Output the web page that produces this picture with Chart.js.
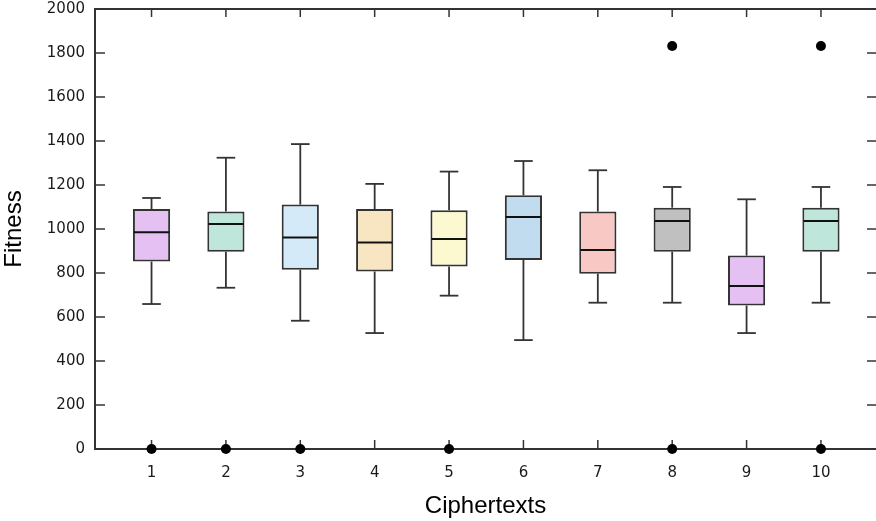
<!DOCTYPE html>
<html>
<head>
<meta charset="utf-8">
<script src="https://cdn.jsdelivr.net/npm/chart.js@4.4.1/dist/chart.umd.min.js"></script>
<style>
    html, body { margin: 0; padding: 0; background: #fff; overflow: hidden; }
    #wrap { width: 876px; height: 521px; }
</style>
</head>
<body>
<div id="wrap"><canvas id="chart"></canvas></div>
<script>
// box plot data
const categories  = [1, 2, 3, 4, 5, 6, 7, 8, 9, 10];
const whiskerLow  = [659, 733, 583, 527, 697, 495, 665, 665, 527, 665];
const q1          = [852, 897, 815, 807, 829, 859, 797, 897, 652, 897];
const median      = [985, 1023, 961, 939, 955, 1055, 905, 1036, 741, 1036];
const q3          = [1091, 1079, 1111, 1091, 1085, 1153, 1079, 1097, 879, 1097];
const whiskerHigh = [1141, 1324, 1386, 1205, 1261, 1309, 1267, 1191, 1135, 1191];
const outlierCat  = [1, 2, 3, 5, 8, 8, 10, 10];
const outlierVal  = [0, 0, 0, 0, 0, 1832, 0, 1832];
const yTicks      = [0, 200, 400, 600, 800, 1000, 1200, 1400, 1600, 1800, 2000];

const boxColors = ['#e5c1f3', '#bfe6da', '#d4eaf8', '#f8e6c3', '#fcf8cf',
                   '#c1dcee', '#f8c8c5', '#c0c0c0', '#e5c1f3', '#bfe6da'];
const LINE = '#333333';

// whiskers, medians and the inward tick marks, all placed through the scales
const boxExtras = {
    id: 'boxExtras',
    beforeDatasetsDraw(chart) {
        const { ctx, chartArea: a, scales: { x, y } } = chart;
        ctx.save();
        ctx.strokeStyle = LINE;
        ctx.lineWidth = 1.8;
        const seg = (x1, y1, x2, y2) => {
            ctx.beginPath(); ctx.moveTo(x1, y1); ctx.lineTo(x2, y2); ctx.stroke();
        };
        categories.forEach((c, i) => {
            const px = x.getPixelForValue(c);
            const cl = x.getPixelForValue(c - 0.125);
            const cr = x.getPixelForValue(c + 0.125);
            const hi = y.getPixelForValue(whiskerHigh[i]);
            const lo = y.getPixelForValue(whiskerLow[i]);
            seg(px, y.getPixelForValue(q3[i]), px, hi);
            seg(cl, hi, cr, hi);
            seg(px, y.getPixelForValue(q1[i]), px, lo);
            seg(cl, lo, cr, lo);
        });

        // frame top line + tick marks pointing inward
        ctx.lineWidth = 2;
        seg(a.left, a.top, a.right + 2, a.top);
        ctx.lineWidth = 1.5;
        categories.forEach(c => {
            const px = x.getPixelForValue(c);
            seg(px, a.bottom, px, a.bottom - 9);
            seg(px, a.top, px, a.top + 8);
        });
        yTicks.forEach(v => {
            const py = y.getPixelForValue(v);
            seg(a.left, py, a.left + 10, py);
            seg(a.right, py, a.right - 9, py);
        });
        ctx.restore();
    },
    afterDatasetsDraw(chart) {
        const { ctx, scales: { x, y } } = chart;
        ctx.save();
        ctx.strokeStyle = '#111';
        ctx.lineWidth = 2;
        categories.forEach((c, i) => {
            const py = y.getPixelForValue(median[i]);
            ctx.beginPath();
            ctx.moveTo(x.getPixelForValue(c - 0.25) + 1, py);
            ctx.lineTo(x.getPixelForValue(c + 0.25) - 1, py);
            ctx.stroke();
        });
        ctx.restore();
    }
};

const tickFont = { family: 'DejaVu Sans', size: 15 };
const titleFont = { family: 'Liberation Sans', size: 24 };

new Chart(document.getElementById('chart'), {
    type: 'bar',
    data: {
        datasets: [
            {
                type: 'bar',
                data: categories.map((c, i) => ({ x: c, y: [q1[i], q3[i]] })),
                backgroundColor: boxColors,
                borderColor: LINE,
                borderWidth: 2,
                borderSkipped: false,
                barPercentage: 0.5,
                categoryPercentage: 1,
                order: 2,
            },
            {
                type: 'scatter',
                data: outlierCat.map((c, i) => ({ x: c, y: outlierVal[i] })),
                backgroundColor: '#000',
                borderWidth: 0,
                pointRadius: 5,
                clip: false,
                order: 1,
            }
        ]
    },
    options: {
        responsive: true,
        maintainAspectRatio: false,
        animation: false,
        layout: { autoPadding: false, padding: { top: 9, left: 0, right: 0, bottom: 0 } },
        plugins: {
            legend: { display: false },
            tooltip: { enabled: false },
        },
        scales: {
            x: {
                type: 'linear',
                min: 0.24,
                max: 10.74,
                offset: false,
                grid: { display: false },
                border: { display: true, color: LINE, width: 2 },
                ticks: { padding: 7, font: tickFont, color: '#1a1a1a', callback: v => String(v) },
                afterBuildTicks: s => { s.ticks = categories.map(v => ({ value: v })); },
                afterFit: s => { s.height = 72; s.paddingLeft = 0; s.paddingRight = 0; },
                title: { display: true, text: 'Ciphertexts', font: titleFont, color: '#000', padding: 0 },
            },
            y: {
                min: 0,
                max: 2000,
                grid: { display: false },
                border: { display: true, color: LINE, width: 2 },
                ticks: { stepSize: 200, padding: 2, font: tickFont, color: '#1a1a1a', callback: v => String(v) },
                afterFit: s => { s.width = 95; s.paddingTop = 0; s.paddingBottom = 0; },
                title: { display: true, text: 'Fitness', font: titleFont, color: '#000', padding: 0 },
            }
        }
    },
    plugins: [boxExtras]
});
</script>
</body>
</html>
